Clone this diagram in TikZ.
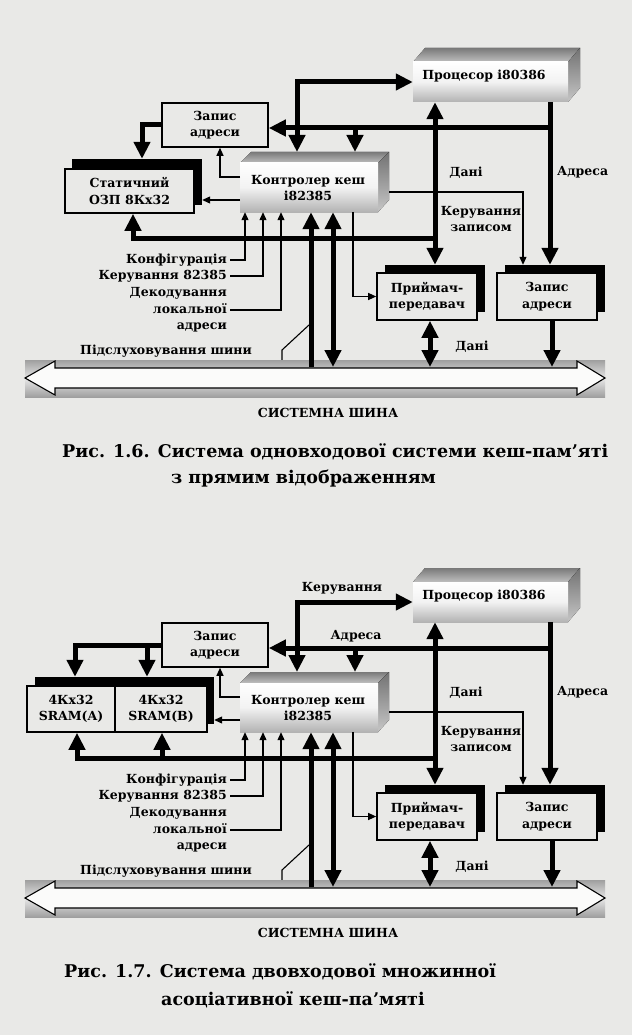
\documentclass[tikz,border=0pt]{standalone}
\usepackage{fontspec}
\setmainfont{DejaVu Serif}
\usetikzlibrary{arrows.meta}
\definecolor{paper}{RGB}{233,233,231}
\tikzset{
  fat/.style={line width=5pt},
  fatarrow/.style={fat,-{Triangle[width=16pt,length=17pt]}},
  fatboth/.style={fat,{Triangle[width=16pt,length=17pt]}-{Triangle[width=16pt,length=17pt]}},
  slim/.style={line width=1.1pt},
  slimarrow/.style={slim,-{Triangle[width=7pt,length=8pt]}},
  txt/.style={font=\bfseries\fontsize{12.5}{16.5}\selectfont, inner sep=0pt, align=center},
  captxt/.style={font=\bfseries\fontsize{17.5}{20}\selectfont, inner sep=0pt},
  plainbox/.style={draw, line width=1.6pt, fill=paper},
  shadowbox/.style={fill=black, inner sep=0pt},
  front/.style={inner sep=0pt, top color=white, bottom color=gray!60, middle color=white!90!gray},
  topface/.style={top color=gray!95!black, bottom color=gray!50},
  sideface/.style={top color=gray!90!black, bottom color=gray!45},
}
\newcommand\cachebody{%
  % column coordinates
  \coordinate (xA) at (297,0); \coordinate (xB) at (355,0);
  \coordinate (xD) at (435,0); \coordinate (xE) at (550,0);
  \coordinate (xW) at (523,0); \coordinate (xS) at (353,0);
  \coordinate (xc1) at (245,0); \coordinate (xc2) at (263,0);
  \coordinate (xc3) at (281,0); \coordinate (xt1) at (311,0);
  \coordinate (xt2) at (333,0); \coordinate (xR) at (430,0);
  \coordinate (xQ) at (552,0); \coordinate (xz) at (220,0);
  \coordinate (jE) at (550,128); \coordinate (jD) at (435,238);
  \coordinate (c1L) at (240,177); \coordinate (c2L) at (240,200);
  \coordinate (tapA) at (309,325); \coordinate (tapB) at (282,350);
  % processor
  \fill[topface] (413,62) -- (425,48) -- (580,48) -- (568,62) -- cycle;
  \fill[sideface] (568,62) -- (580,48) -- (580,88) -- (568,102) -- cycle;
  \node[front, minimum width=155pt, minimum height=40pt] (proc) at (490.5,82) {};
  \node[txt] (proct) at (484,76) {Процесор i80386};
  % controller
  \fill[topface] (240,163) -- (251,152) -- (389,152) -- (378,163) -- cycle;
  \fill[sideface] (378,163) -- (389,152) -- (389,200) -- (378,212) -- cycle;
  \node[front, minimum width=138pt, minimum height=49pt] (ctl) at (309,187.5) {};
  \node[txt] (ctlt) at (308,188) {Контролер кеш\\i82385};
  \coordinate (ctlback) at (320,152);
  \coordinate (ctlR) at (389,192);
  % address latch (left)
  \node[plainbox, txt, minimum width=106pt, minimum height=44pt] (zl) at (215,125) {Запис\\адреси};
  % transceiver
  \node[shadowbox, minimum width=100pt, minimum height=47pt] (prs) at (435,288.5) {};
  \node[plainbox, txt, minimum width=100pt, minimum height=47pt] (pr) at (427,296.5) {Приймач-\\передавач};
  % address latch (right)
  \node[shadowbox, minimum width=100pt, minimum height=47pt] (zrs) at (555,288.5) {};
  \node[plainbox, txt, minimum width=100pt, minimum height=47pt] (zr) at (547,296.5) {Запис\\адреси};
  % system bus
  \shade[top color=gray!75, bottom color=gray!75, middle color=gray!20] (25,360) rectangle (605,397);
  \node[inner sep=0pt, minimum width=580pt, minimum height=37pt] (bus) at (315,378.5) {};
  \draw[slim, fill=white!80!paper] (25,378) -- (55,361) -- (55,368) -- (577,368) -- (577,361)
     -- (605,378) -- (577,395) -- (577,388) -- (55,388) -- (55,395) -- cycle;
  \coordinate (busline) at (315,367);
  % labels
  \node[txt, anchor=east] (l1) at (227,260) {Конфігурація};
  \node[txt, anchor=east] (l2) at (227,276) {Керування 82385};
  \node[txt, anchor=east, align=right] (l3) at (227,310) {Декодування\\локальної\\адреси};
  \node[txt, anchor=west] (l4) at (80,351) {Підслуховування шини};
  \node[txt] (dani1) at (466,173) {Дані};
  \node[txt, anchor=west] (adr1) at (557,172) {Адреса};
  \node[txt] (kz) at (481,219) {Керування\\записом};
  \node[txt] (dani2) at (472,347) {Дані};
  \node[txt] (sysbus) at (328,413) {СИСТЕМНА ШИНА};
  % connectors
  \draw[fatboth] (ctlback -| xA) |- (proc.west);
  \draw[fatarrow] (proc.south -| xE) -- (zrs.north -| xE);
  \draw[fatarrow] (jE) -- (jE -| zl.east);
  \draw[fatarrow] (jE -| xB) -- (ctlback -| xB);
  \draw[fatboth] (proc.south -| xD) -- (prs.north -| xD);
  \draw[slimarrow] (ctlR) -| (zrs.north -| xW);
  \draw[slimarrow] (ctl.south -| xS) |- (pr.west);
  \draw[slimarrow] ([xshift=3pt]l1.east) -| (ctl.south -| xc1);
  \draw[slimarrow] ([xshift=3pt]l2.east) -| (ctl.south -| xc2);
  \draw[slimarrow] ([xshift=3pt]l3.east) -| (ctl.south -| xc3);
  \draw[fatarrow] (busline -| xt1) -- (ctl.south -| xt1);
  \draw[fatboth] (ctl.south -| xt2) -- (busline -| xt2);
  \draw[slim] (tapA) -- (tapB) -- (bus.north -| tapB);
  \draw[fatboth] (pr.south -| xR) -- (busline -| xR);
  \draw[fatarrow] (zr.south -| xQ) -- (busline -| xQ);
  \draw[slimarrow] (c1L) -| (zl.south -| xz);
}
\begin{document}
\begin{tikzpicture}[x=1pt,y=-1pt]
\useasboundingbox[fill=paper] (0,0) rectangle (632,1035);
% ---------------- Fig. 1.6 ----------------
\begin{scope}[name prefix=a-]
  \cachebody
  \coordinate (xm) at (142,0); \coordinate (xm2) at (133,0);
  \node[shadowbox, minimum width=130pt, minimum height=46pt] (sts) at (137,182) {};
  \node[plainbox, txt, minimum width=129pt, minimum height=44pt] (st) at (129.5,191) {Статичний\\ОЗП 8Кх32};
  \draw[fatarrow] (zl.west) -| (sts.north -| xm);
  \draw[slimarrow] (c2L) -- (c2L -| sts.east);
  \draw[fatarrow] (jD) -| (st.south -| xm2);
  \node[captxt, anchor=base west] (cap1) at (62,457) {Рис. 1.6. Система одновходової системи кеш-пам’яті};
  \node[captxt, anchor=base west] (cap2) at (171,483) {з прямим відображенням};
\end{scope}
% ---------------- Fig. 1.7 ----------------
\begin{scope}[yshift=-520pt, name prefix=b-]
  \cachebody
  \coordinate (xs1) at (75,0); \coordinate (xs2) at (147,0);
  \coordinate (xs3) at (77,0); \coordinate (xs4) at (162,0);
  \node[shadowbox, minimum width=179pt, minimum height=47pt] (ss) at (124.5,180.5) {};
  \node[plainbox, txt, minimum width=88pt, minimum height=46pt] (sa) at (71,189) {4Кх32\\SRAM(A)};
  \node[plainbox, txt, minimum width=92pt, minimum height=46pt] (sb) at (161,189) {4Кх32\\SRAM(B)};
  \draw[fatarrow] (zl.west) -| (ss.north -| xs1);
  \draw[fatarrow] (zl.west -| xs2) -- (ss.north -| xs2);
  \draw[slimarrow] (c2L) -- (c2L -| ss.east);
  \draw[fatarrow] (jD) -| (sa.south -| xs3);
  \draw[fatarrow] (jD -| xs4) -- (sb.south -| xs4);
  \node[txt] (kr) at (342,68) {Керування};
  \node[txt] (ad) at (356,116) {Адреса};
  \node[captxt, anchor=base west] (cap3) at (64,457) {Рис. 1.7. Система двовходової множинної};
  \node[captxt, anchor=base west] (cap4) at (161,485) {асоціативної кеш-па’мяті};
\end{scope}
\end{tikzpicture}
\end{document}
